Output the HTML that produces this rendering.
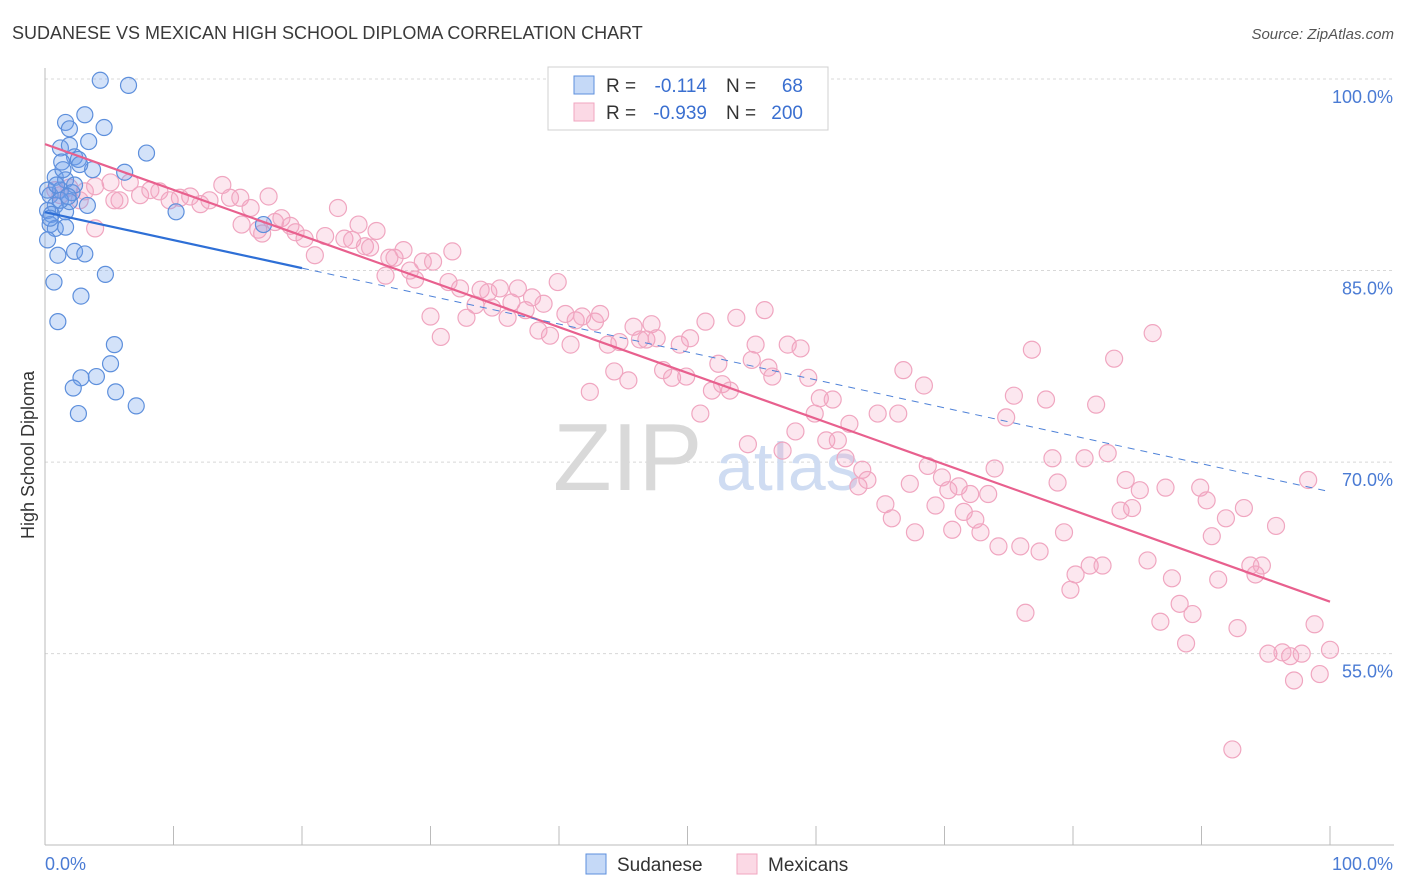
<!DOCTYPE html>
<html><head><meta charset="utf-8">
<style>
body{margin:0;background:#fff;font-family:"Liberation Sans",sans-serif;}
#wrap{position:relative;width:1406px;height:892px;overflow:hidden;}
svg text{font-family:"Liberation Sans",sans-serif;}
</style></head>
<body>
<div id="wrap">
<svg id="chart" width="1406" height="892"></svg>
</div>
<script>
const yTickValues=[100,85,70,55];
const yTickLabels=["100.0%","85.0%","70.0%","55.0%"];
const xEndLabels=["0.0%","100.0%"];
const legendR=["-0.114","-0.939"];
const legendN=["68","200"];
const sudaneseX=[4.3,6.5,3.1,1.6,4.6,1.9,3.4,1.2,7.9,1.9,2.3,1.3,2.6,3.7,6.2,0.8,1.6,1.2,0.4,2.1,0.8,0.2,1.6,0.5,3.3,1.9,10.2,0.4,0.8,1.6,17.0,0.2,1.0,2.3,3.1,0.7,4.7,2.8,1.0,5.4,5.1,4.0,2.8,2.2,5.5,2.6,7.1,0.2,1.2,2.3,1.8,0.4,0.9,1.4,2.7];
const sudaneseY=[99.9,99.5,97.2,96.6,96.2,96.1,95.1,94.6,94.2,94.8,93.9,93.5,93.7,92.9,92.7,92.3,92.1,91.3,90.9,91.1,90.1,89.7,89.6,89.4,90.1,90.4,89.6,88.6,88.3,88.4,88.6,87.4,86.2,86.5,86.3,84.1,84.7,83.0,81.0,79.2,77.7,76.7,76.6,75.8,75.5,73.8,74.4,91.3,90.5,91.7,90.8,89.1,91.7,92.9,93.3];
const mexicanX=[0.8,1.9,3.1,3.9,5.1,6.6,5.8,7.4,2.7,1.2,3.9,5.4,8.2,8.9,9.7,10.5,11.3,12.1,12.8,13.8,14.4,15.2,16.0,17.4,15.3,16.6,16.9,17.9,18.4,19.1,19.5,20.2,21.0,21.8,22.8,23.3,23.9,24.4,24.9,25.3,25.8,26.8,26.5,27.2,27.9,28.4,28.8,29.4,30.2,31.7,30.0,30.8,31.4,32.3,32.8,33.5,33.9,34.5,34.8,35.4,36.0,36.3,36.8,37.4,37.9,38.4,38.8,39.3,39.9,40.5,40.9,41.3,41.8,42.4,42.8,43.2,43.8,44.3,44.7,45.4,45.8,46.3,46.8,47.2,47.6,48.1,48.8,49.4,49.9,50.2,51.0,51.4,51.9,52.4,52.7,53.3,53.8,54.7,55.0,55.3,56.0,56.3,56.6,57.4,57.8,58.4,58.8,59.4,59.9,60.3,60.8,61.3,61.7,62.3,62.6,63.3,63.6,64.0,64.8,65.4,65.9,66.4,66.8,67.3,67.7,68.4,68.7,69.3,69.8,70.3,70.6,71.1,71.5,72.0,72.4,72.8,73.4,73.9,74.2,74.8,75.4,75.9,76.3,76.8,77.4,77.9,78.4,78.8,79.3,79.8,80.2,80.9,81.3,81.8,82.3,82.7,83.2,83.7,84.1,84.6,85.2,85.8,86.2,86.8,87.2,87.7,88.3,88.8,89.3,89.9,90.4,90.8,91.3,91.9,92.4,92.8,93.3,93.8,94.2,94.7,95.2,95.8,96.3,96.9,97.2,97.8,98.3,98.8,99.2,100.0];
const mexicanY=[91.3,91.5,91.2,91.6,91.9,91.9,90.5,90.9,90.5,90.9,88.3,90.5,91.3,91.2,90.5,90.7,90.8,90.2,90.5,91.7,90.7,90.7,89.9,90.8,88.6,88.2,87.9,88.8,89.1,88.5,88.0,87.5,86.2,87.7,89.9,87.5,87.4,88.6,86.9,86.8,88.1,86.0,84.6,86.0,86.6,85.0,84.3,85.7,85.7,86.5,81.4,79.8,84.1,83.6,81.3,82.3,83.5,83.3,82.1,83.6,81.3,82.5,83.6,81.9,82.9,80.3,82.4,79.9,84.1,81.6,79.2,81.1,81.4,75.5,81.0,81.6,79.2,77.1,79.4,76.4,80.6,79.6,79.6,80.8,79.7,77.2,76.6,79.2,76.7,79.7,73.8,81.0,75.6,77.7,76.1,75.6,81.3,71.4,78.0,79.2,81.9,77.4,76.7,70.9,79.2,72.4,78.9,76.6,73.8,75.0,71.7,74.9,71.7,70.3,73.0,68.1,69.4,68.6,73.8,66.7,65.6,73.8,77.2,68.3,64.5,76.0,69.7,66.6,68.8,67.8,64.7,68.1,66.1,67.5,65.5,64.5,67.5,69.5,63.4,73.5,75.2,63.4,58.2,78.8,63.0,74.9,70.3,68.4,64.5,60.0,61.2,70.3,61.9,74.5,61.9,70.7,78.1,66.2,68.6,66.4,67.8,62.3,80.1,57.5,68.0,60.9,58.9,55.8,58.1,68.0,67.0,64.2,60.8,65.6,47.5,57.0,66.4,61.9,61.2,61.9,55.0,65.0,55.1,54.8,52.9,55.0,68.6,57.3,53.4,55.3];

const NS="http://www.w3.org/2000/svg";
const svg=document.getElementById('chart');
const X0=45,X1=1330,Y100=79,PXPER=12.77;
const sx=v=>X0+(X1-X0)*v/100;
const sy=v=>Y100+(100-v)*PXPER;
function mk(tag,attrs,parent){const e=document.createElementNS(NS,tag);for(const k in attrs)e.setAttribute(k,attrs[k]);(parent||svg).appendChild(e);return e;}

// title & source
let t=mk('text',{x:12,y:39,'font-size':18,fill:'#3a3a3a'});t.textContent="SUDANESE VS MEXICAN HIGH SCHOOL DIPLOMA CORRELATION CHART";


t=mk('text',{x:1394,y:39,'font-size':15,fill:'#555','text-anchor':'end','font-style':'italic'});t.textContent="Source: ZipAtlas.com";



// gridlines and y labels
yTickValues.forEach((v,i)=>{
  const g=mk('line',{x1:X0,x2:1394,y1:sy(v),y2:sy(v),stroke:'#d8d8d8','stroke-dasharray':'3,3'});
  
  
  const l=mk('text',{x:1393,y:sy(v)+24,'font-size':18,fill:'#4a7bd4','text-anchor':'end'});l.textContent=yTickLabels[i];
  
  
});
// axes
let a=mk('line',{x1:X0,x2:X0,y1:68,y2:845,stroke:'#bbb'});


a=mk('line',{x1:X0,x2:1394,y1:845,y2:845,stroke:'#bbb'});


for(let i=0;i<=10;i++){const tk=mk('line',{x1:sx(i*10),x2:sx(i*10),y1:826,y2:845,stroke:'#bbb'});
  
  }
t=mk('text',{x:45,y:870,'font-size':18,fill:'#4a7bd4'});t.textContent=xEndLabels[0];


t=mk('text',{x:1393,y:870,'font-size':18,fill:'#4a7bd4','text-anchor':'end'});t.textContent=xEndLabels[1];


t=mk('text',{x:34,y:455,'font-size':18,fill:'#333','text-anchor':'middle',transform:'rotate(-90 34 455)'});t.textContent="High School Diploma";



// watermark
t=mk('text',{x:553,y:490,'font-size':96,fill:'#d9d9d9','font-family':'Liberation Serif, serif'});t.textContent="ZIP";


t=mk('text',{x:716,y:490,'font-size':68,fill:'#cfdcf2'});t.textContent="atlas";



// points
mexicanX.forEach((x,i)=>{const c=mk('circle',{cx:sx(x),cy:sy(mexicanY[i]),r:8.5,fill:'rgba(244,160,190,0.25)',stroke:'#f0a6c0','stroke-width':1.2});
  
  });
sudaneseX.forEach((x,i)=>{const c=mk('circle',{cx:sx(x),cy:sy(sudaneseY[i]),r:8,fill:'rgba(110,160,235,0.3)',stroke:'#5d8fdc','stroke-width':1.2});
  
  });

// regression
function fit(xs,ys){const n=xs.length;let mx=0,my=0;xs.forEach((x,i)=>{mx+=x;my+=ys[i]});mx/=n;my/=n;let sxy=0,sxx=0;xs.forEach((x,i)=>{sxy+=(x-mx)*(ys[i]-my);sxx+=(x-mx)*(x-mx)});const b=sxy/sxx;return [my-b*mx,b];}
const [ma,mb]=fit(mexicanX,mexicanY);
let ln=mk('line',{x1:sx(0),y1:sy(ma),x2:sx(100),y2:sy(ma+mb*100),stroke:'#e8608e','stroke-width':2.2});


const [sa,sb0]=fit(sudaneseX,sudaneseY);
const sb=Math.max(sb0,-0.6);
ln=mk('line',{x1:sx(0),y1:sy(sa),x2:sx(20),y2:sy(sa+sb*20),stroke:'#2e6fd6','stroke-width':2.2});


ln=mk('line',{x1:sx(20),y1:sy(sa+sb*20),x2:sx(100),y2:sy(sa+sb*100),stroke:'#4f82d8','stroke-width':1,'stroke-dasharray':'7,6'});



// legend box
const lg=mk('g',{});


mk('rect',{x:548,y:67,width:280,height:63,fill:'#fff',stroke:'#d0d0d0'},lg);
const cols=[['rgba(110,160,235,0.4)','#5d8fdc'],['rgba(244,160,190,0.4)','#f0a6c0']];
[0,1].forEach(i=>{
  const y=76+i*27;
  mk('rect',{x:574,y:y,width:20,height:18,fill:cols[i][0],stroke:cols[i][1]},lg);
  let tt=mk('text',{x:606,y:y+16,'font-size':19,fill:'#333'},lg);tt.textContent="R = ";
  tt=mk('text',{x:707,y:y+16,'font-size':19,fill:'#3a6fd0','text-anchor':'end'},lg);tt.textContent=legendR[i];
  
  
  tt=mk('text',{x:726,y:y+16,'font-size':19,fill:'#333'},lg);tt.textContent="N = ";
  tt=mk('text',{x:803,y:y+16,'font-size':19,fill:'#3a6fd0','text-anchor':'end'},lg);tt.textContent=legendN[i];
  
  
});

// bottom legend
const names=["Sudanese","Mexicans"];const lx=[586,737];
names.forEach((n,i)=>{
  const r=mk('rect',{x:lx[i],y:854,width:20,height:20,fill:cols[i][0],stroke:cols[i][1]});
  
  
  const tt=mk('text',{x:lx[i]+31,y:871,'font-size':19,fill:'#333'});tt.textContent=n;
  
  
});
</script>
</body></html>
